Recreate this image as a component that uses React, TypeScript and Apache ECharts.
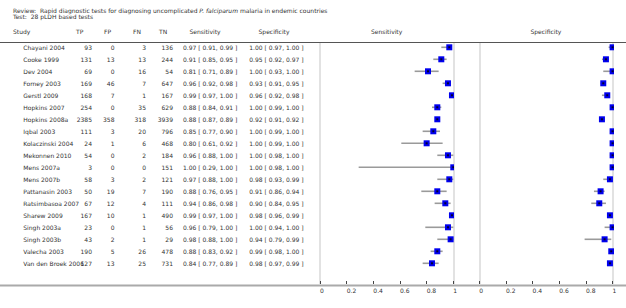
import React, { useEffect, useRef } from "react";
import * as echarts from "echarts";

const studies = [
  "Chayani 2004", "Cooke 1999", "Dev 2004", "Forney 2003", "Gerstl 2009",
  "Hopkins 2007", "Hopkins 2008a", "Iqbal 2003", "Kolaczinski 2004", "Mekonnen 2010",
  "Mens 2007a", "Mens 2007b", "Pattanasin 2003", "Ratsimbasoa 2007", "Sharew 2009",
  "Singh 2003a", "Singh 2003b", "Valecha 2003", "Van den Broek 2006",
];
const tp = [93, 131, 69, 169, 168, 254, 2385, 111, 24, 54, 3, 58, 50, 67, 167, 23, 43, 190, 127];
const fp = [0, 13, 0, 46, 7, 0, 358, 3, 1, 0, 0, 3, 19, 12, 10, 0, 2, 5, 13];
const fn = [3, 13, 16, 7, 1, 35, 318, 20, 6, 2, 0, 2, 7, 4, 1, 1, 1, 26, 25];
const tn = [136, 244, 54, 647, 167, 629, 3939, 796, 468, 184, 151, 121, 190, 111, 490, 56, 29, 478, 731];
const sens = [0.97, 0.91, 0.81, 0.96, 0.99, 0.88, 0.88, 0.85, 0.80, 0.96, 1.00, 0.97, 0.88, 0.94, 0.99, 0.96, 0.98, 0.88, 0.84];
const sensLo = [0.91, 0.85, 0.71, 0.92, 0.97, 0.84, 0.87, 0.77, 0.61, 0.88, 0.29, 0.88, 0.76, 0.86, 0.97, 0.79, 0.88, 0.83, 0.77];
const sensHi = [0.99, 0.95, 0.89, 0.98, 1.00, 0.91, 0.89, 0.90, 0.92, 1.00, 1.00, 1.00, 0.95, 0.98, 1.00, 1.00, 1.00, 0.92, 0.89];
const spec = [1.00, 0.95, 1.00, 0.93, 0.96, 1.00, 0.92, 1.00, 1.00, 1.00, 1.00, 0.98, 0.91, 0.90, 0.98, 1.00, 0.94, 0.99, 0.98];
const specLo = [0.97, 0.92, 0.93, 0.91, 0.92, 0.99, 0.91, 0.99, 0.99, 0.98, 0.98, 0.93, 0.86, 0.84, 0.96, 0.94, 0.79, 0.98, 0.97];
const specHi = [1.00, 0.97, 1.00, 0.95, 0.98, 1.00, 0.92, 1.00, 1.00, 1.00, 1.00, 0.99, 0.94, 0.95, 0.99, 1.00, 0.99, 1.00, 0.99];

const FONT = "DejaVu Sans";
const TXT = "#333";

const fmt = (e: number, l: number, h: number) =>
  `${e.toFixed(2)} [ ${l.toFixed(2)}, ${h.toFixed(2)} ]`;

export default function App() {
  const ref = useRef<HTMLDivElement>(null);
  useEffect(() => {
    if (!ref.current) return;
    const chart = echarts.init(ref.current, null, { renderer: "svg" });
    const n = studies.length;
    const yMin = -0.358;
    const yMax = 19.725;

    const renderItem = (params: any, api: any) => {
      const y = api.value(3);
      const lo = api.coord([api.value(0), y]);
      const hi = api.coord([api.value(1), y]);
      const c = api.coord([api.value(2), y]);
      return {
        type: "group",
        children: [
          { type: "line", shape: { x1: lo[0], y1: lo[1], x2: hi[0], y2: hi[1] }, style: { stroke: "#9a9a9a", lineWidth: 1.6 } },
          { type: "rect", shape: { x: c[0] - 3, y: c[1] - 3, width: 6, height: 6 }, style: { fill: "#0000ee" } },
          { type: "rect", shape: { x: c[0] - 1, y: c[1] - 1, width: 2, height: 2 }, style: { fill: "#000033" } },
        ],
      };
    };

    const xAxisCfg = (gi: number) => ({
      type: "value",
      gridIndex: gi,
      min: 0,
      max: 1,
      interval: 0.2,
      position: "bottom",
      axisLine: { show: false, onZero: false },
      axisTick: { show: true, inside: true, length: 3, lineStyle: { color: "#444", width: 1 } },
      splitLine: { show: false },
      axisLabel: {
        fontSize: 6,
        fontFamily: FONT,
        color: TXT,
        align: "left",
        margin: 3,
        formatter: (v: number) => String(Math.round(v * 10) / 10),
      },
      z: 10,
    });
    const refAxisCfg = (gi: number) => ({
      type: "value",
      gridIndex: gi,
      min: 0,
      max: 1,
      interval: 1,
      position: "top",
      axisLine: { show: false, onZero: false },
      axisTick: { show: false },
      axisLabel: { show: false },
      splitLine: { show: true, lineStyle: { color: "#d8d8d8", width: 1.5 } },
    });
    const yAxisCfg = (gi: number) => ({
      type: "value",
      gridIndex: gi,
      min: yMin,
      max: yMax,
      inverse: true,
      show: false,
    });

    chart.setOption({
      animation: false,
      grid: [
        { left: 320, top: 43, width: 133.3, height: 241 },
        { left: 479.3, top: 43, width: 133.3, height: 241 },
      ],
      xAxis: [xAxisCfg(0), xAxisCfg(1), refAxisCfg(0), refAxisCfg(1)],
      yAxis: [yAxisCfg(0), yAxisCfg(1)],
      series: [
        {
          type: "custom",
          xAxisIndex: 0,
          yAxisIndex: 0,
          clip: true,
          renderItem,
          data: studies.map((_, i) => [sensLo[i], sensHi[i], sens[i], i]),
        },
        {
          type: "custom",
          xAxisIndex: 1,
          yAxisIndex: 1,
          clip: true,
          renderItem,
          data: studies.map((_, i) => [specLo[i], specHi[i], spec[i], i]),
        },
      ],
    });

    const toPx = (xi: number, v: number[]) => chart.convertToPixel({ xAxisIndex: xi, yAxisIndex: xi } as any, v);
    const rowY = (i: number) => toPx(0, [0, i])[1];
    const axisY = toPx(0, [0, yMax])[1];
    const topY = toPx(0, [0, yMin])[1];
    const sensMid = toPx(0, [0.5, 0])[0];
    const specMid = toPx(1, [0.5, 0])[0];

    const txt = (x: number, y: number, text: string, align: string = "left") => ({
      type: "text",
      x,
      y,
      silent: true,
      style: { text, fill: TXT, font: `6px "${FONT}"`, align, verticalAlign: "middle" },
    });

    const g: any[] = [];
    g.push({
      type: "text",
      x: 13,
      y: 10,
      silent: true,
      style: {
        text: "Review:  Rapid diagnostic tests for diagnosing uncomplicated {i|P. falciparum} malaria in endemic countries",
        fill: TXT,
        font: `6px "${FONT}"`,
        verticalAlign: "middle",
        rich: { i: { fontStyle: "italic", fontSize: 6, fontFamily: FONT, fill: TXT } },
      },
    });
    g.push(txt(13, 16, "Test:  28 pLDH based tests"));
    const headY = 31;
    g.push(txt(13, headY, "Study"));
    g.push(txt(76, headY, "TP"));
    g.push(txt(104, headY, "FP"));
    g.push(txt(133, headY, "FN"));
    g.push(txt(159, headY, "TN"));
    g.push(txt(205, headY, "Sensitivity", "center"));
    g.push(txt(274, headY, "Specificity", "center"));
    g.push(txt(sensMid, headY, "Sensitivity", "center"));
    g.push(txt(specMid, headY, "Specificity", "center"));
    g.push({ type: "line", silent: true, z: -1, shape: { x1: 0, y1: topY - 0.5, x2: 626, y2: topY - 0.5 }, style: { stroke: "#555", lineWidth: 1 } });
    g.push({ type: "line", silent: true, z: -1, shape: { x1: 0, y1: axisY + 1.5, x2: 626, y2: axisY + 1.5 }, style: { stroke: "#aaa", lineWidth: 2 } });

    for (let i = 0; i < n; i++) {
      const y = rowY(i);
      g.push(txt(23.3, y, studies[i]));
      g.push(txt(92, y, String(tp[i]), "right"));
      g.push(txt(114.5, y, String(fp[i]), "right"));
      g.push(txt(146, y, String(fn[i]), "right"));
      g.push(txt(173, y, String(tn[i]), "right"));
      g.push(txt(183, y, fmt(sens[i], sensLo[i], sensHi[i])));
      g.push(txt(249.3, y, fmt(spec[i], specLo[i], specHi[i])));
    }
    chart.setOption({ graphic: g });

    return () => chart.dispose();
  }, []);
  return <div ref={ref} style={{ position: "fixed", left: 0, top: 0, width: 626, height: 308, background: "#fff" }} />;
}
